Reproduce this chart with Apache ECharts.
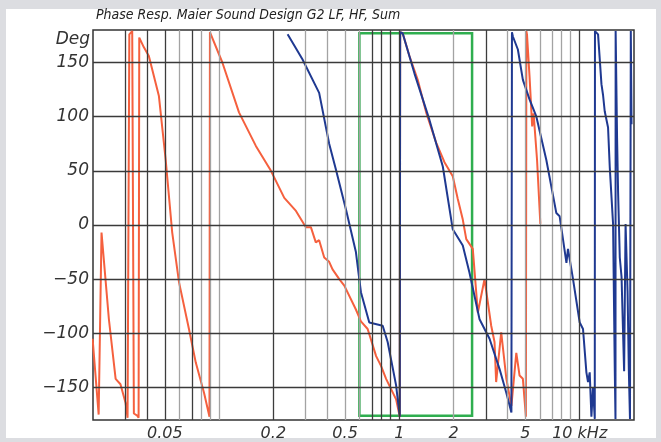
<!DOCTYPE html>
<html>
<head>
<meta charset="utf-8">
<title>Phase Resp. Maier Sound Design G2</title>
<script src="https://cdn.jsdelivr.net/npm/echarts@6/dist/echarts.min.js"></script>
<style>
  html, body { margin: 0; padding: 0; background: #dcdde1; }
  #main { width: 661px; height: 442px; }
</style>
</head>
<body>
<div id="main"></div>
<script type="text/javascript">
// frequencies in kHz, phase in degrees
var orangeF = [0.0199, 0.0215, 0.0223, 0.0245, 0.0267, 0.0284, 0.0303, 0.0311, 0.0314, 0.0318, 0.0330, 0.0334,
  0.0337, 0.0352, 0.0358, 0.0361, 0.0383, 0.0408, 0.0464, 0.0506, 0.0550, 0.0600, 0.0681, 0.0743, 0.0826, 0.0885,
  0.0890, 0.0900, 0.1043, 0.129, 0.160, 0.194, 0.230, 0.267, 0.303, 0.323, 0.344, 0.359, 0.383, 0.408, 0.426,
  0.464, 0.495, 0.574, 0.612, 0.667, 0.743, 0.791, 0.844, 0.959, 1.005, 1.010, 1.043, 1.137, 1.264, 1.407,
  1.599, 1.778, 1.977, 2.108, 2.247, 2.349, 2.553, 2.723, 2.965, 3.23, 3.37, 3.44, 3.67, 3.92, 4.18, 4.45,
  4.64, 4.84, 5.03, 5.06, 5.10, 5.27, 5.45, 5.55, 5.80, 6.05];
var orangeDeg = [-105, -175, -7, -87, -142, -147, -164, -178, -179, 176, 179, 178,
  -174, -176, -178, 173, 164, 156, 119, 60, -7, -53, -96, -127, -155, -177,
  178, 177, 150, 104, 73, 50, 25, 13, -2, -2, -16, -14, -30, -34, -41,
  -50, -56, -78, -89, -96, -121, -130, -142, -161, -177, 178, 177, 156, 134, 104,
  76, 58, 45, 24, 5, -13, -22, -81, -50, -93, -108, -145, -99, -142, -167, -118,
  -139, -142, -177, 179, 176, 137, 91, 103, 60, 1];

var blueF = [0.240, 0.290, 0.359, 0.408, 0.445, 0.506, 0.574, 0.612, 0.681, 0.808, 0.861, 0.959, 1.005,
  1.010, 1.043, 1.212, 1.468, 1.741, 1.977, 2.247, 2.448, 2.783, 3.162, 3.594, 3.92, 4.18,
  4.21, 4.26, 4.54, 4.84, 5.27, 5.75, 6.53, 7.42, 7.74, 8.44, 8.61, 9.18, 10.0, 10.43, 10.89, 11.12,
  11.36, 11.61, 11.85, 12.12, 12.15, 12.64, 13.2, 13.47, 13.76, 14.36, 14.68, 15.31, 15.65, 15.79,
  15.82, 16.11, 16.32, 16.68, 17.06, 17.63, 17.96, 18.42, 18.73, 19.0, 19.2, 19.38];
var blueDeg = [176, 153, 122, 75, 51, 14, -25, -62, -90, -93, -108, -148, -177,
  178, 177, 140, 97, 54, -4, -19, -44, -87, -105, -133, -155, -173,
  178, 174, 162, 134, 116, 100, 60, 11, 8, -35, -22, -50, -90, -96, -136, -145,
  -136, -177, -150, -179, 179, 176, 130, 120, 105, 90, 53, 1, -135, -179,
  179, 81, 31, -30, -48, -135, 1, -61, -135, -179, 179, 93];

var xLabels = [0.05, 0.2, 0.5, 1, 2, 5, 10];
var yTicks = [-150, -100, -50, 0, 50, 100, 150];
var gridDark = [0.03, 0.04, 0.05, 0.07, 0.2, 0.7, 0.8, 0.9, 1, 3, 10];
var gridLight = [0.06, 0.08, 0.09, 0.1, 0.3, 0.4, 0.5, 0.6, 2, 4, 5, 6, 7, 8, 9];
var boxF = [0.6, 2.53];
var boxDeg = [177, -176];

function lg(f) { return Math.log10(f); }
function pairs(fs, ds) {
    return fs.map(function (f, i) { return [lg(f), ds[i]]; });
}

var myChart = echarts.init(document.getElementById('main'));

var vLines = gridLight.map(function (f) {
    return { xAxis: lg(f), lineStyle: { color: '#a3a3a3', width: 1.3, type: 'solid' } };
}).concat(gridDark.map(function (f) {
    return { xAxis: lg(f), lineStyle: { color: '#3c3c3c', width: 1.3, type: 'solid' } };
}));
var hLines = yTicks.map(function (v) {
    return { yAxis: v, lineStyle: { color: '#3a3a3a', width: 1.4, type: 'solid' } };
});

var option = {
    animation: false,
    backgroundColor: '#dcdde1',
    graphic: [
        { type: 'rect', left: 6, top: 9, shape: { width: 650, height: 429 }, style: { fill: '#ffffff' }, z: -10 },
        { type: 'text', right: 571, top: 31, style: { text: 'Deg', font: 'italic 17px "DejaVu Sans"', fill: '#333', textAlign: 'right' } }
    ],
    title: {
        text: 'Phase Resp. Maier Sound Design G2 LF, HF, Sum',
        left: 91,
        top: 3,
        textStyle: { fontFamily: '"Liberation Sans Narrow", "DejaVu Sans Condensed", sans-serif', fontStyle: 'italic', fontWeight: 'normal', fontSize: 14, color: '#222' }
    },
    grid: {
        left: 93, right: 27, top: 30, bottom: 22,
        show: true, borderColor: '#333', borderWidth: 1.5, backgroundColor: '#fff'
    },
    xAxis: {
        type: 'value',
        min: lg(0.02),
        max: lg(20),
        axisLine: { show: false },
        splitLine: { show: false },
        axisTick: { show: false, customValues: xLabels.map(lg) },
        axisLabel: {
            customValues: xLabels.map(lg),
            margin: 6,
            fontFamily: 'DejaVu Sans', fontStyle: 'italic', fontSize: 16, color: '#333',
            formatter: function (v) {
                var f = Number(Math.pow(10, v).toPrecision(3));
                return f === 10 ? '10 kHz' : String(f);
            }
        }
    },
    yAxis: {
        type: 'value',
        min: -180,
        max: 180,
        axisLine: { show: false },
        splitLine: { show: false },
        axisTick: { show: false, customValues: yTicks },
        axisLabel: {
            customValues: yTicks,
            margin: 4,
            fontFamily: 'DejaVu Sans', fontStyle: 'italic', fontSize: 17, color: '#333',
            formatter: function (v) { return String(v).replace('-', '\u2212'); }
        }
    },
    series: [{
        name: 'grid',
        type: 'line',
        data: [],
        silent: true,
        z: 1,
        markLine: {
            silent: true,
            symbol: ['none', 'none'],
            label: { show: false },
            emphasis: { disabled: true },
            data: vLines.concat(hLines)
        },
        markArea: {
            silent: true,
            itemStyle: { color: 'rgba(0,0,0,0)', borderColor: '#2fae4f', borderWidth: 2.5 },
            data: [[{ coord: [lg(boxF[0]), boxDeg[0]] }, { coord: [lg(boxF[1]), boxDeg[1]] }]]
        }
    }, {
        name: 'LF',
        type: 'line',
        data: pairs(orangeF, orangeDeg),
        showSymbol: false,
        z: 3,
        lineStyle: { color: '#f5603e', width: 2 }
    }, {
        name: 'HF',
        type: 'line',
        data: pairs(blueF, blueDeg),
        showSymbol: false,
        z: 4,
        lineStyle: { color: '#1f3991', width: 2 }
    }]
};

myChart.setOption(option);
</script>
</body>
</html>
